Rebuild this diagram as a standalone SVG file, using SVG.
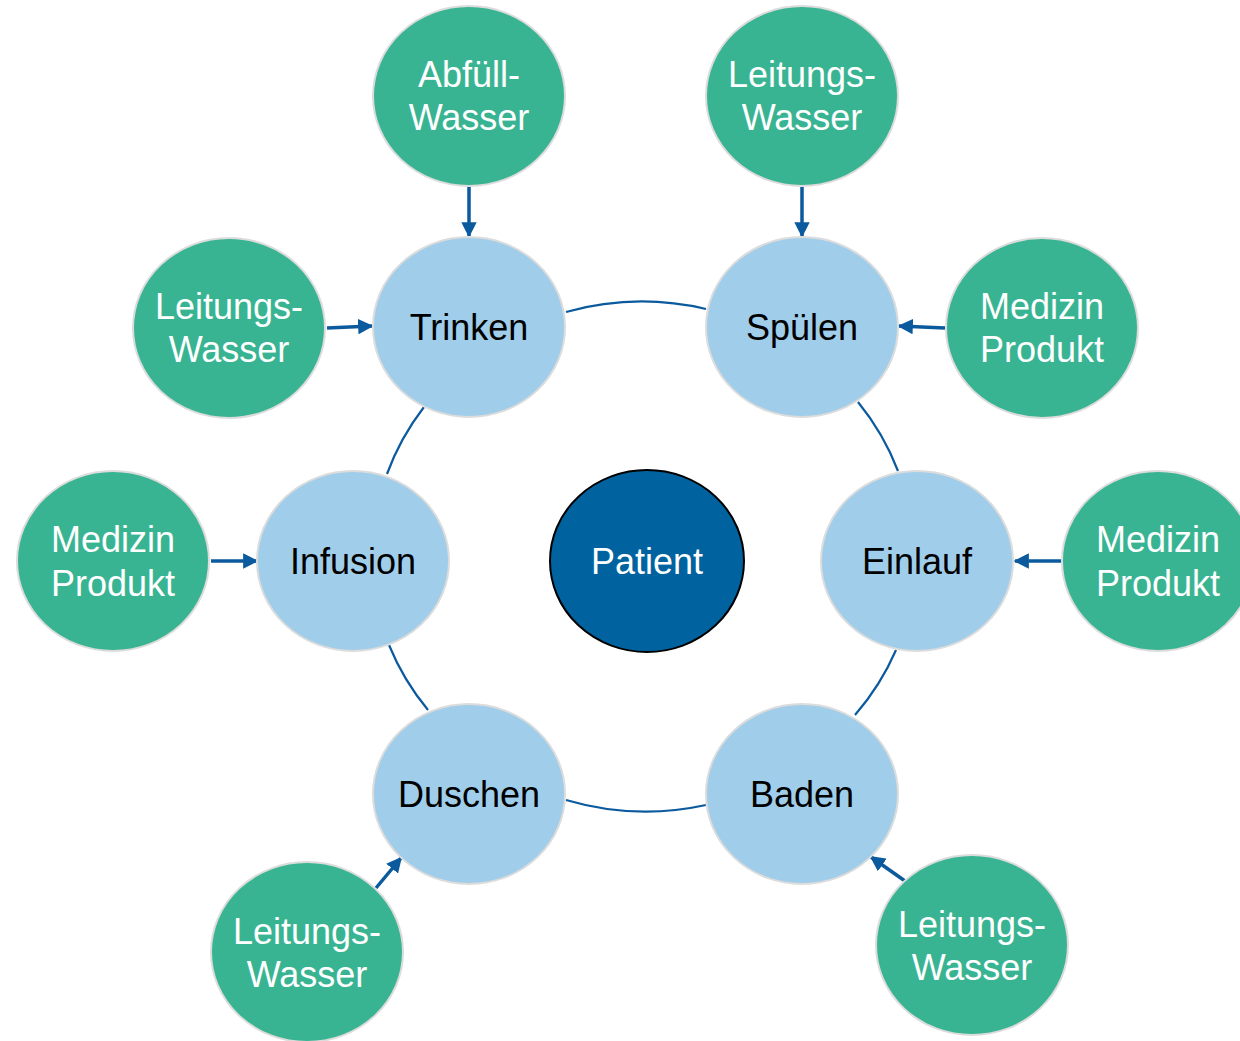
<svg xmlns="http://www.w3.org/2000/svg" width="1240" height="1041" viewBox="0 0 1240 1041">
<style>
.g{fill:#39b493;stroke:#dcdcdc;stroke-width:2}
.b{fill:#9fcdea;stroke:#dcdcdc;stroke-width:2}
.p{fill:#0063a0;stroke:#000;stroke-width:2}
text{font-family:"Liberation Sans",Arial,sans-serif;font-size:36px;text-anchor:middle}
.wt{fill:#fff}
.bt{fill:#000}
.ring{fill:none;stroke:#0b5a9e;stroke-width:2.2}
.arr{fill:none;stroke:#0b5a9e;stroke-width:3.5;marker-end:url(#ah)}
</style>
<defs>
<marker id="ah" viewBox="0 0 10 10" refX="9" refY="5" markerWidth="4.4" markerHeight="4.4" orient="auto" markerUnits="strokeWidth">
<path d="M0,0 L10,5 L0,10 Z" fill="#0b5a9e"/>
</marker>
</defs>
<g id="connectors">
<path class="ring" d="M566,312 A268,254 0 0 1 706,309"/>
<path class="ring" d="M858,402 A268,254 0 0 1 898,471"/>
<path class="ring" d="M896,650 A268,254 0 0 1 855,715"/>
<path class="ring" d="M706,805 A268,254 0 0 1 566,800"/>
<path class="ring" d="M428,710 A268,254 0 0 1 389,645"/>
<path class="ring" d="M387,474 A268,254 0 0 1 424,407"/>
<path class="arr" d="M469,187 L469,236"/>
<path class="arr" d="M802,187 L802,236"/>
<path class="arr" d="M327,328 L372,326"/>
<path class="arr" d="M945,328 L899,326"/>
<path class="arr" d="M211,561 L257,561"/>
<path class="arr" d="M1061,561 L1015,561"/>
<path class="arr" d="M376,888 L401,858"/>
<path class="arr" d="M905,881 L871,857"/>
</g>
<g id="patient"><ellipse class="p" cx="647" cy="561" rx="97" ry="91"/><text class="wt" x="647" y="574">Patient</text></g>
<g id="trinken"><ellipse class="b" cx="469" cy="327" rx="96" ry="90"/><text class="bt" x="469" y="340">Trinken</text></g>
<g id="spuelen"><ellipse class="b" cx="802" cy="327" rx="96" ry="90"/><text class="bt" x="802" y="340">Spülen</text></g>
<g id="infusion"><ellipse class="b" cx="353" cy="561" rx="96" ry="90"/><text class="bt" x="353" y="574">Infusion</text></g>
<g id="einlauf"><ellipse class="b" cx="917" cy="561" rx="96" ry="90"/><text class="bt" x="917" y="574">Einlauf</text></g>
<g id="duschen"><ellipse class="b" cx="469" cy="794" rx="96" ry="90"/><text class="bt" x="469" y="807">Duschen</text></g>
<g id="baden"><ellipse class="b" cx="802" cy="794" rx="96" ry="90"/><text class="bt" x="802" y="807">Baden</text></g>
<g id="abfuell"><ellipse class="g" cx="469" cy="96" rx="96" ry="90"/><text class="wt" x="469" y="87">Abfüll-</text><text class="wt" x="469" y="130">Wasser</text></g>
<g id="leitung-top"><ellipse class="g" cx="802" cy="96" rx="96" ry="90"/><text class="wt" x="802" y="87">Leitungs-</text><text class="wt" x="802" y="130">Wasser</text></g>
<g id="leitung-left"><ellipse class="g" cx="229" cy="328" rx="96" ry="90"/><text class="wt" x="229" y="319">Leitungs-</text><text class="wt" x="229" y="362">Wasser</text></g>
<g id="medizin-top"><ellipse class="g" cx="1042" cy="328" rx="96" ry="90"/><text class="wt" x="1042" y="319">Medizin</text><text class="wt" x="1042" y="362">Produkt</text></g>
<g id="medizin-left"><ellipse class="g" cx="113" cy="561" rx="96" ry="90"/><text class="wt" x="113" y="552">Medizin</text><text class="wt" x="113" y="596">Produkt</text></g>
<g id="medizin-right"><ellipse class="g" cx="1158" cy="561" rx="96" ry="90"/><text class="wt" x="1158" y="552">Medizin</text><text class="wt" x="1158" y="596">Produkt</text></g>
<g id="leitung-bl"><ellipse class="g" cx="307" cy="952" rx="96" ry="90"/><text class="wt" x="307" y="944">Leitungs-</text><text class="wt" x="307" y="987">Wasser</text></g>
<g id="leitung-br"><ellipse class="g" cx="972" cy="945" rx="96" ry="90"/><text class="wt" x="972" y="937">Leitungs-</text><text class="wt" x="972" y="980">Wasser</text></g>
</svg>
